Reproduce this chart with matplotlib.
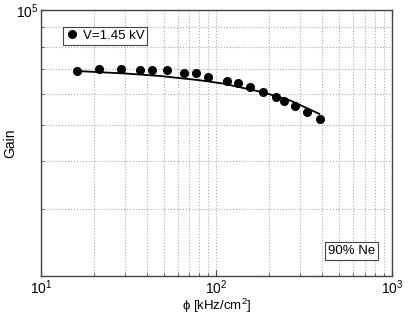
import matplotlib
matplotlib.use("Agg")
import matplotlib.pyplot as plt
from matplotlib.ticker import LogLocator, NullFormatter

plt.rcParams['font.family'] = ['Liberation Sans', 'DejaVu Sans']
plt.rcParams['mathtext.fontset'] = 'custom'
plt.rcParams['mathtext.rm'] = 'Liberation Sans'

# measured points (V=1.45 kV)
phi = [16, 21.3, 28.6, 36.5, 43.1, 52.5, 65.4, 76.6, 90, 115, 132, 156,
       184, 217, 244, 281, 330, 388]
gain = [69000, 70200, 70000, 69750, 69750, 69750, 68350, 68200, 66800,
        65250, 64200, 62600, 60760, 59080, 57770, 55940, 53800, 51580]

# fit curve
fit_phi = [15.8, 30.8, 47.6, 80.5, 109.3, 184.8, 262.5, 385.5]
fit_gain = [69170, 68080, 67100, 65380, 64080, 60760, 57880, 53350]

fig = plt.figure(figsize=(4.09, 3.14), dpi=100)
ax = fig.add_axes([0.1002, 0.121, 0.8582, 0.847])

ax.plot(fit_phi, fit_gain, color='black', lw=1.3)
ax.plot(phi, gain, 'o', color='black', ms=5.5, label='V=1.45 kV')

ax.set_xscale('log')
ax.set_yscale('log')
ax.set_xlim(10, 1000)
ax.set_ylim(2e4, 1e5)

ax.xaxis.set_minor_locator(LogLocator(base=10, subs=range(2, 10)))
ax.yaxis.set_minor_locator(LogLocator(base=10, subs=range(2, 10)))
ax.yaxis.set_minor_formatter(NullFormatter())
ax.xaxis.set_minor_formatter(NullFormatter())
ax.set_yticks([1e5])
ax.set_yticklabels([r'$10^5$'])
ax.set_xticks([10, 100, 1000])
ax.set_xticklabels([r'$10^1$', r'$10^2$', r'$10^3$'])

ax.grid(True, which='both', ls=':', color='#aaaaaa', lw=0.8)
ax.tick_params(which='both', direction='in', labelsize=10, color='#444444')
ax.tick_params(which='major', length=4, pad=2)
ax.tick_params(which='minor', length=2)
for s in ax.spines.values():
    s.set_color('#444444')
    s.set_linewidth(1.0)

ax.set_xlabel('ϕ [kHz/cm$^2$]', fontsize=9.5, va='center')
ax.xaxis.set_label_coords(0.5, -0.113)
ax.set_ylabel('Gain', fontsize=10, va='center')
ax.yaxis.set_label_coords(-0.088, 0.5)

leg = ax.legend(loc='upper left', bbox_to_anchor=(0.063, 0.936), fontsize=9.5,
                handletextpad=0.3, handlelength=1.0, borderpad=0.2,
                borderaxespad=0, fancybox=False, framealpha=1)
leg.get_frame().set_edgecolor('#444444')
leg.get_frame().set_linewidth(0.8)

ax.text(0.952, 0.094, '90% Ne', transform=ax.transAxes, fontsize=9.5,
        ha='right', va='center',
        bbox=dict(boxstyle='square,pad=0.2', fc='white', ec='#444444', lw=0.8))

fig.savefig('out.png', dpi=100)
